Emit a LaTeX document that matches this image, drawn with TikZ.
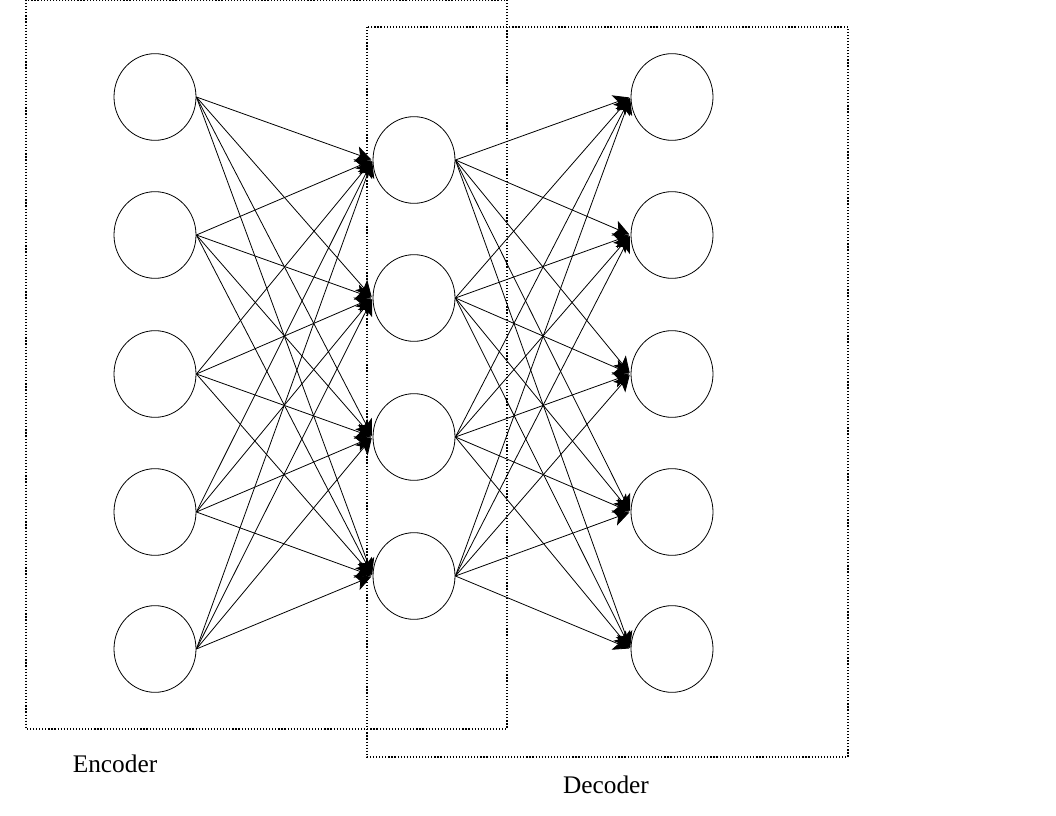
\documentclass[tikz,border=0pt]{standalone}
\usepackage{fontspec}
\setmainfont{Liberation Serif}
\usetikzlibrary{arrows.meta,shapes.geometric}

\begin{document}
\begin{tikzpicture}[x=0.75pt,y=-0.75pt,line width=0.6pt,
    >={Stealth[length=12pt,width=12pt,inset=3pt]},shorten >=1pt,
    unit node/.style={ellipse,draw,inner sep=0pt,minimum width=61.5pt,minimum height=65pt},
    group box/.style={draw,dash pattern=on 0.9pt off 1.4pt,line width=0.9pt},
    box label/.style={font=\fontsize{19}{22}\selectfont}]

  \useasboundingbox (0,0) rectangle (1056,816);

  % encoder / decoder frames
  \draw[group box] (26,0) rectangle (507,729);
  \draw[group box] (367,27) rectangle (848,757);
  \node[box label] (enc) at (115,764) {Encoder};
  \node[box label] (dec) at (606,785) {Decoder};

  \node[unit node] (i1) at (155,97) {};
  \node[unit node] (i2) at (155,235) {};
  \node[unit node] (i3) at (155,374) {};
  \node[unit node] (i4) at (155,512) {};
  \node[unit node] (i5) at (155,649) {};

  \node[unit node] (h1) at (414,160) {};
  \node[unit node] (h2) at (414,298) {};
  \node[unit node] (h3) at (414,437) {};
  \node[unit node] (h4) at (414,576) {};

  \node[unit node] (o1) at (672,97) {};
  \node[unit node] (o2) at (672,235) {};
  \node[unit node] (o3) at (672,374) {};
  \node[unit node] (o4) at (672,512) {};
  \node[unit node] (o5) at (672,649) {};

  \path[->] (i1.east) edge (h1.west) edge (h2.west) edge (h3.west) edge (h4.west)
            (i2.east) edge (h1.west) edge (h2.west) edge (h3.west) edge (h4.west)
            (i3.east) edge (h1.west) edge (h2.west) edge (h3.west) edge (h4.west)
            (i4.east) edge (h1.west) edge (h2.west) edge (h3.west) edge (h4.west)
            (i5.east) edge (h1.west) edge (h2.west) edge (h3.west) edge (h4.west);

  \path[->] (h1.east) edge (o1.west) edge (o2.west) edge (o3.west) edge (o4.west) edge (o5.west)
            (h2.east) edge (o1.west) edge (o2.west) edge (o3.west) edge (o4.west) edge (o5.west)
            (h3.east) edge (o1.west) edge (o2.west) edge (o3.west) edge (o4.west) edge (o5.west)
            (h4.east) edge (o1.west) edge (o2.west) edge (o3.west) edge (o4.west) edge (o5.west);

\end{tikzpicture}
\end{document}
